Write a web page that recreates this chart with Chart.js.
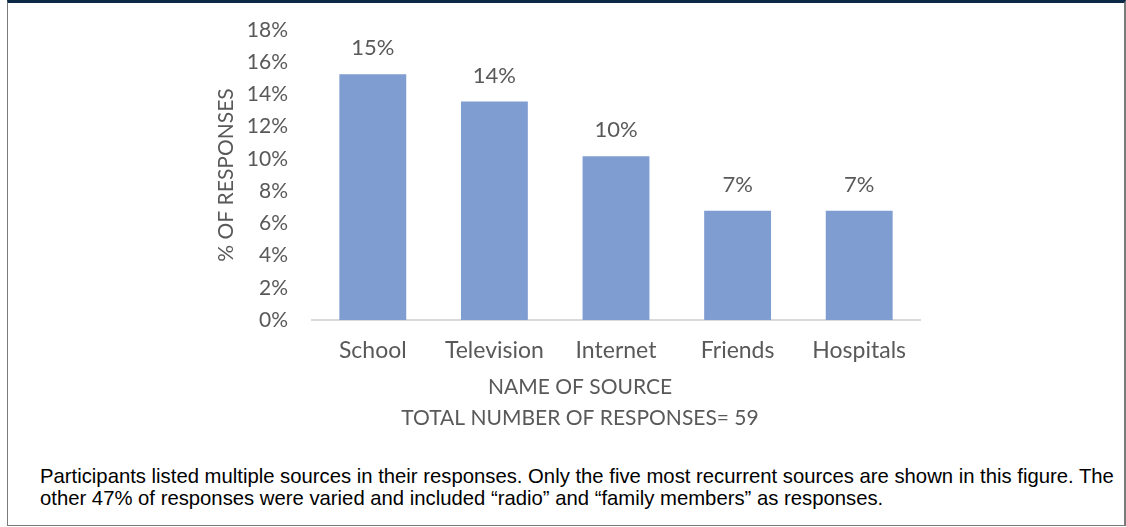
<!DOCTYPE html>
<html>
<head>
<meta charset="utf-8">
<script src="https://cdn.jsdelivr.net/npm/chart.js@4"></script>
<style>
    html, body { margin: 0; padding: 0; background: #fff; }
    body { width: 1126px; height: 527px; position: relative; overflow: hidden; }
    #frame {
        position: absolute; left: 7px; top: 0; width: 1116px; height: 522px;
        border-top: 3px solid #0b2846; border-left: 1px solid #7a7a7a;
        border-right: 2px solid #7a7a7a; border-bottom: 1px solid #7a7a7a;
    }
    #chartBox { position: absolute; left: 0; top: 0; width: 1126px; height: 440px; }
    #caption {
        position: absolute; left: 40px; top: 465px; width: 1086px;
        font-family: "Liberation Sans Narrow", "Arial Narrow", sans-serif;
        font-size: 20.3px; line-height: 22px; color: #000; white-space: nowrap;
    }
</style>
</head>
<body>
<div id="frame"></div>
<div id="chartBox"><canvas id="myChart" width="1126" height="440"></canvas></div>
<div id="caption">Participants listed multiple sources in their responses. Only the five most recurrent sources are shown in this figure. The<br>other 47% of responses were varied and included “radio” and “family members” as responses.</div>
<script>
const sources = ['School', 'Television', 'Internet', 'Friends', 'Hospitals'];
const shares = [15.25, 13.56, 10.17, 6.78, 6.78];
const yTicks = [0, 2, 4, 6, 8, 10, 12, 14, 16, 18];
const xTitleLines = ['NAME OF SOURCE', 'TOTAL NUMBER OF RESPONSES= 59'];

const textGray = '#595959';
const font = 'Lato, "Open Sans", sans-serif';

const barLabels = {
    id: 'barLabels',
    afterDatasetsDraw(chart) {
        const ctx = chart.ctx;
        const meta = chart.getDatasetMeta(0);
        ctx.save();
        ctx.font = '22px ' + font;
        ctx.fillStyle = textGray;
        ctx.textAlign = 'center';
        ctx.textBaseline = 'middle';
        meta.data.forEach((bar, i) => {
            ctx.fillText(Math.round(shares[i]) + '%', bar.x, bar.y - 26);
        });
        ctx.restore();
    }
};

const xTitle = {
    id: 'xTitle',
    afterDraw(chart) {
        const ctx = chart.ctx;
        const area = chart.chartArea;
        ctx.save();
        ctx.font = '21px ' + font;
        ctx.fillStyle = textGray;
        ctx.textAlign = 'center';
        ctx.textBaseline = 'middle';
        xTitleLines.forEach((line, i) => {
            ctx.fillText(line, area.left + 268, area.bottom + 67 + i * 31);
        });
        ctx.restore();
    }
};

new Chart(document.getElementById('myChart'), {
    type: 'bar',
    data: {
        labels: sources,
        datasets: [{
            data: shares,
            backgroundColor: '#7f9dd1',
            borderWidth: 0,
            categoryPercentage: 1,
            barPercentage: 0.55
        }]
    },
    options: {
        responsive: false,
        animation: false,
        layout: { padding: { left: 210, top: 30, right: 206, bottom: 0 } },
        plugins: { legend: { display: false }, tooltip: { enabled: false } },
        scales: {
            x: {
                grid: { display: false, drawTicks: false },
                border: { color: '#d9d9d9', width: 2 },
                ticks: { color: textGray, font: { family: font, size: 23 }, padding: 17 },
                afterFit(scale) { scale.height = 120; }
            },
            y: {
                min: 0,
                max: 18,
                grid: { display: false, drawTicks: false },
                border: { display: false },
                afterBuildTicks(scale) { scale.ticks = yTicks.map(v => ({ value: v })); },
                ticks: {
                    color: textGray,
                    font: { family: font, size: 21 },
                    padding: 24,
                    callback: v => v + '%'
                },
                title: {
                    display: true,
                    text: '% OF RESPONSES',
                    color: textGray,
                    font: { family: font, size: 21 }
                },
                afterFit(scale) {
                    scale.width = 102;
                    // tick padding would otherwise push the plot top down
                    scale.paddingTop = 0;
                    scale.paddingBottom = 0;
                }
            }
        }
    },
    plugins: [barLabels, xTitle]
});
</script>
</body>
</html>
